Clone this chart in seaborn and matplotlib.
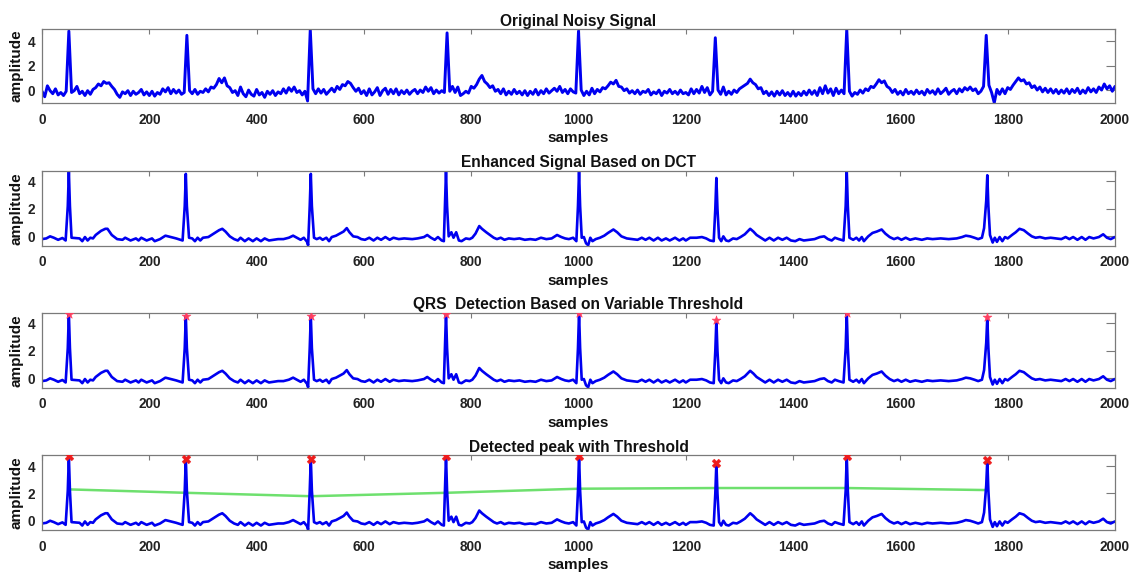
import numpy as np
import pandas as pd
import matplotlib
matplotlib.use("Agg")
import matplotlib.pyplot as plt
import seaborn as sns

# ---------------- data ----------------
noisy_step = 5  # samples between the read-off values of the noisy trace
noisy_values = [
    -0.1, -0.55, 0.35, -0.05, -0.3, 0.1, -0.4, -0.2, -0.45, -0.1, 4.85, -0.2, -0.05, 0.3, -0.3, -0.1, -0.45, -0.05, -0.35, 0.05,
    0.2, 0.5, 0.35, 0.7, 0.55, 0.6, 0.3, 0.05, -0.35, -0.6, -0.15, -0.3, -0.05, -0.45, -0.1, -0.35, -0.2, 0.05, -0.4, -0.15,
    -0.45, -0.1, -0.5, -0.2, -0.35, 0.1, -0.15, 0.2, -0.3, 0.05, -0.25, 0.0, -0.35, -0.2, 4.5, -0.05, -0.3, 0.05, -0.35, -0.1,
    -0.2, 0.1, -0.15, 0.25, 0.15, 0.45, 0.95, 0.6, 1.0, 0.35, 0.2, -0.2, -0.05, -0.45, 0.25, -0.3, -0.55, 0.0, -0.35, -0.5,
    0.05, -0.4, -0.2, -0.6, -0.1, -0.35, -0.05, -0.45, -0.15, -0.3, 0.1, -0.25, 0.2, -0.1, 0.25, -0.2, -0.05, -0.4, -0.1, -0.9,
    5.0, 0.1, -0.3, 0.1, -0.25, 0.05, -0.35, -0.1, 0.15, -0.15, 0.3, 0.05, 0.45, 0.35, 0.7, 0.55, 0.2, -0.1, 0.15, -0.3,
    -0.05, -0.45, 0.1, -0.4, -0.15, 0.2, -0.45, -0.05, 0.15, -0.35, 0.05, -0.3, 0.1, -0.4, -0.05, -0.3, 0.0, -0.35, -0.1, 0.05,
    -0.3, 0.0, -0.2, 0.25, -0.1, 0.2, -0.3, 0.0, -0.25, -0.05, -0.2, 4.7, -0.1, 0.3, -0.2, 0.25, -0.45, -0.3, -0.1, -0.25,
    0.3, 0.15, 0.45, 0.9, 1.2, 0.7, 0.5, 0.2, 0.35, -0.1, 0.05, -0.3, 0.1, -0.4, -0.1, -0.35, 0.05, -0.3, -0.1, -0.4,
    -0.05, -0.45, -0.1, -0.35, 0.05, -0.4, -0.05, -0.3, 0.1, -0.25, -0.05, 0.15, -0.1, 0.3, -0.2, 0.05, -0.3, 0.1, -0.15, -0.25,
    4.85, 0.0, -0.45, -0.1, -0.4, 0.15, -0.3, 0.05, -0.15, 0.2, 0.1, 0.35, 0.65, 0.5, 0.8, 0.3, 0.25, -0.05, 0.1, -0.25,
    -0.05, -0.3, 0.0, -0.35, -0.1, -0.2, 0.05, -0.4, -0.15, -0.3, 0.0, -0.45, -0.1, -0.25, 0.05, -0.3, -0.1, -0.35, 0.0, -0.3,
    -0.2, -0.4, 0.1, -0.3, 0.05, -0.25, 0.3, -0.2, 0.2, -0.4, -0.1, 4.3, 0.0, -0.35, 0.25, -0.4, -0.1, -0.35, 0.0, -0.2,
    0.1, 0.25, 0.4, 0.55, 0.9, 0.6, 0.45, 0.1, 0.2, -0.3, -0.1, -0.45, -0.15, -0.5, -0.1, -0.4, -0.05, -0.45, -0.2, -0.5,
    -0.1, -0.5, -0.2, -0.45, -0.1, -0.4, 0.0, -0.35, -0.05, -0.45, 0.2, -0.3, 0.35, -0.25, 0.1, -0.45, 0.15, -0.3, 0.0, -0.3,
    5.0, -0.1, -0.5, -0.2, -0.35, 0.0, -0.25, 0.1, -0.05, 0.3, 0.2, 0.5, 0.85, 0.6, 0.75, 0.3, 0.15, -0.2, 0.05, -0.35,
    -0.1, -0.4, 0.05, -0.3, -0.1, -0.35, 0.0, -0.3, -0.1, -0.4, 0.05, -0.25, -0.05, -0.35, 0.1, -0.3, -0.1, 0.15, -0.35, -0.1,
    0.05, -0.3, 0.1, -0.15, 0.2, 0.0, 0.25, -0.05, 0.1, -0.3, -0.1, 0.3, 4.5, 0.4, -0.2, -1.05, 0.05, -0.35, 0.1, -0.3,
    0.2, 0.05, 0.4, 0.7, 1.0, 0.75, 0.85, 0.5, 0.6, 0.2, 0.35, 0.0, 0.25, -0.15, 0.15, -0.2, 0.1, -0.25, 0.05, -0.3,
    0.0, -0.25, 0.1, -0.3, 0.05, -0.2, 0.15, -0.3, 0.0, -0.25, 0.2, -0.15, 0.1, -0.2, 0.25, 0.0, 0.5, 0.1, 0.35, -0.1,
    0.3,
]

# enhanced (DCT) signal: (sample, amplitude) read-off points
enhanced_points = [
    (0, -0.2), (8, -0.15), (15, 0.0), (22, -0.1), (30, -0.25), (38, -0.12), (44, -0.3), (48, 2.2), (50, 4.72), (52, 2.2),
    (55, -0.1), (62, -0.12), (70, -0.15), (75, -0.35), (80, -0.05), (85, -0.3), (90, -0.1), (95, -0.15), (100, 0.1),
    (110, 0.4), (118, 0.55), (122, 0.55), (130, 0.1), (140, -0.2), (150, -0.25), (155, -0.1), (165, -0.3), (175, -0.15),
    (180, -0.3), (185, -0.1), (195, -0.3), (205, -0.15), (210, -0.35), (220, -0.2), (230, 0.05), (240, -0.05),
    (250, -0.15), (262, -0.3), (266, 2.2), (268, 4.55), (270, 2.2), (274, -0.1), (280, -0.15), (285, -0.35), (290, -0.1),
    (295, -0.3), (300, -0.1), (310, -0.05), (320, 0.2), (330, 0.45), (336, 0.55), (342, 0.35), (350, 0.0), (358, -0.2),
    (365, -0.3), (370, -0.1), (378, -0.35), (385, -0.15), (393, -0.35), (400, -0.15), (408, -0.35), (415, -0.15),
    (423, -0.3), (432, -0.25), (440, -0.2), (450, -0.2), (460, -0.1), (468, 0.05), (475, -0.1), (482, -0.25),
    (488, -0.1), (494, -0.4), (496, -0.65), (499, 2.2), (501, 4.55), (503, 2.2), (507, -0.1), (512, -0.2), (518, -0.1),
    (523, -0.25), (530, -0.1), (535, -0.35), (540, -0.05), (548, 0.05), (555, 0.2), (562, 0.35), (568, 0.6), (573, 0.3),
    (580, 0.0), (588, -0.05), (595, -0.2), (602, -0.25), (610, -0.1), (618, -0.3), (625, -0.1), (632, -0.25),
    (640, -0.05), (648, -0.25), (655, -0.1), (665, -0.2), (675, -0.15), (690, -0.2), (700, -0.15), (712, -0.05),
    (718, 0.1), (725, -0.1), (732, -0.25), (738, -0.05), (745, -0.3), (749, -0.35), (751, 2.2), (753, 4.72), (755, 2.2),
    (758, 0.0), (763, 0.3), (767, -0.1), (772, 0.3), (777, -0.3), (782, -0.35), (790, -0.15), (797, -0.2), (802, -0.1),
    (808, 0.2), (815, 0.75), (820, 0.55), (828, 0.3), (835, 0.1), (842, -0.1), (848, -0.2), (855, -0.1), (862, -0.25),
    (870, -0.15), (880, -0.2), (890, -0.15), (900, -0.25), (910, -0.2), (920, -0.25), (930, -0.1), (940, -0.2),
    (950, -0.15), (960, 0.1), (968, -0.05), (975, -0.15), (982, -0.2), (990, -0.1), (996, -0.35), (999, 2.2),
    (1001, 4.75), (1003, 2.2), (1006, -0.1), (1010, -0.05), (1014, -0.5), (1018, -0.65), (1022, -0.1), (1026, -0.35),
    (1032, -0.2), (1040, -0.1), (1048, 0.05), (1055, 0.25), (1065, 0.5), (1072, 0.3), (1080, 0.0), (1090, -0.15),
    (1100, -0.2), (1110, -0.25), (1118, -0.1), (1125, -0.25), (1132, -0.1), (1140, -0.3), (1148, -0.1), (1155, -0.3),
    (1163, -0.15), (1170, -0.3), (1180, -0.1), (1188, -0.3), (1195, -0.15), (1200, -0.3), (1208, -0.1), (1220, -0.1),
    (1230, -0.05), (1238, -0.15), (1245, -0.3), (1252, -0.35), (1255, 2.0), (1257, 4.25), (1259, 2.0), (1262, -0.1),
    (1266, -0.35), (1270, 0.0), (1275, -0.3), (1280, -0.35), (1288, -0.15), (1295, -0.2), (1302, -0.05), (1310, 0.15),
    (1320, 0.55), (1326, 0.35), (1332, 0.1), (1340, -0.1), (1348, -0.3), (1356, -0.1), (1364, -0.3), (1372, -0.1),
    (1380, -0.25), (1388, -0.1), (1396, -0.3), (1404, -0.35), (1412, -0.2), (1420, -0.3), (1430, -0.25), (1440, -0.2),
    (1450, -0.05), (1458, 0.0), (1465, -0.2), (1472, -0.3), (1478, -0.1), (1485, -0.2), (1494, -0.3), (1498, 2.2),
    (1500, 4.77), (1502, 2.2), (1505, -0.1), (1512, -0.25), (1518, -0.1), (1523, -0.3), (1528, -0.05), (1532, -0.35),
    (1540, 0.0), (1548, 0.25), (1556, 0.35), (1565, 0.5), (1572, 0.2), (1580, -0.05), (1588, -0.2), (1595, -0.1),
    (1602, -0.25), (1610, -0.1), (1618, -0.25), (1628, -0.15), (1640, -0.25), (1650, -0.15), (1660, -0.2),
    (1675, -0.15), (1690, -0.2), (1705, -0.15), (1715, -0.05), (1722, 0.05), (1730, 0.0), (1738, -0.1), (1745, -0.2),
    (1752, -0.1), (1756, 0.6), (1760, 2.6), (1762, 4.45), (1764, 2.2), (1767, 0.1), (1772, -0.45), (1776, -0.1),
    (1780, -0.4), (1785, -0.05), (1790, -0.35), (1795, -0.05), (1800, -0.15), (1808, 0.1), (1815, 0.3), (1822, 0.55),
    (1830, 0.45), (1838, 0.2), (1845, 0.0), (1852, -0.1), (1860, -0.05), (1870, -0.15), (1880, -0.1), (1890, -0.15),
    (1900, -0.2), (1908, -0.05), (1915, -0.2), (1922, -0.05), (1930, -0.25), (1938, -0.05), (1945, -0.25),
    (1952, -0.05), (1960, -0.15), (1970, -0.05), (1978, 0.15), (1985, -0.1), (1992, -0.2), (2000, -0.05),
]

peak_samples = [50, 268, 501, 753, 1001, 1257, 1500, 1762]
peak_values = [4.72, 4.55, 4.55, 4.72, 4.75, 4.25, 4.77, 4.45]
threshold_values = [2.3, 2.05, 1.8, 2.05, 2.35, 2.4, 2.4, 2.25]

titles = [
    "Original Noisy Signal",
    "Enhanced Signal Based on DCT",
    "QRS  Detection Based on Variable Threshold",
    "Detected peak with Threshold",
]
x_label = "samples"
y_label = "amplitude"
x_ticks = list(range(0, 2001, 200))
y_ticks = [0, 2, 4]

# ---------------- tables ----------------
noisy_df = pd.DataFrame({"sample": np.arange(len(noisy_values)) * noisy_step,
                         "amplitude": noisy_values})
enh_df = pd.DataFrame(enhanced_points, columns=["sample", "amplitude"])
peak_df = pd.DataFrame({"sample": peak_samples, "amplitude": peak_values,
                        "threshold": threshold_values})

# ---------------- style ----------------
sns.set_style("white")
plt.rcParams["font.family"] = ["Liberation Sans", "DejaVu Sans"]
plt.rcParams["font.weight"] = "bold"
plt.rcParams["axes.titleweight"] = "bold"
plt.rcParams["axes.labelweight"] = "bold"

TXT = "#222222"
EDGE = "#7a7a7a"
BLUE = "#0000f0"

fig = plt.figure(figsize=(11.36, 5.73), dpi=100)
left, width = 0.037, 0.9445
rects = [
    (left, 0.8197, width, 0.1297),
    (left, 0.5712, width, 0.1309),
    (left, 0.3234, width, 0.1309),
    (left, 0.0750, width, 0.1304),
]
axes = [fig.add_axes(r) for r in rects]

sns.lineplot(data=noisy_df, x="sample", y="amplitude", ax=axes[0], color=BLUE,
             linewidth=2.1, estimator=None, sort=False)
for ax in axes[1:]:
    sns.lineplot(data=enh_df, x="sample", y="amplitude", ax=ax, color=BLUE,
                 linewidth=1.9, estimator=None, sort=False)

# threshold line (green) in the last panel
sns.lineplot(data=peak_df, x="sample", y="threshold", ax=axes[3], color="#6ee06e",
             linewidth=1.8, estimator=None, sort=False, zorder=1)

# detected peaks
sns.scatterplot(data=peak_df, x="sample", y="amplitude", ax=axes[2], marker="*",
                s=45, color="#ff4060", edgecolor="#ff4060", linewidth=0.4, zorder=5)
sns.scatterplot(data=peak_df, x="sample", y="amplitude", ax=axes[3], marker="X",
                s=40, color="#ee1c1c", edgecolor="#ee1c1c", linewidth=0.3, zorder=5)

ylims = [(-1.09, 5.02), (-0.68, 4.78), (-0.68, 4.78), (-0.68, 4.8)]
for ax, title, yl in zip(axes, titles, ylims):
    ax.set_xlim(0, 2000)
    ax.set_ylim(*yl)
    ax.set_xticks(x_ticks)
    ax.set_yticks(y_ticks)
    ax.set_title(title, fontsize=11.2, fontweight="bold", color="#111111", pad=2.5)
    ax.set_xlabel(x_label, fontsize=11, fontweight="bold", color="#111111", labelpad=3)
    ax.set_ylabel(y_label, fontsize=11, fontweight="bold", color="#111111", labelpad=3)
    ax.tick_params(axis="both", direction="in", top=True, right=True,
                   labelsize=9.8, labelcolor=TXT, color=EDGE, width=0.8)
    ax.tick_params(axis="x", length=3.5, pad=7)
    ax.tick_params(axis="y", length=6.5, pad=5)
    for lab in ax.get_xticklabels() + ax.get_yticklabels():
        lab.set_fontweight("bold")
    for sp in ax.spines.values():
        sp.set_visible(True)
        sp.set_color(EDGE)
        sp.set_linewidth(0.9)
    leg = ax.get_legend()
    if leg is not None:
        leg.remove()

fig.savefig("out.png", dpi=100)
